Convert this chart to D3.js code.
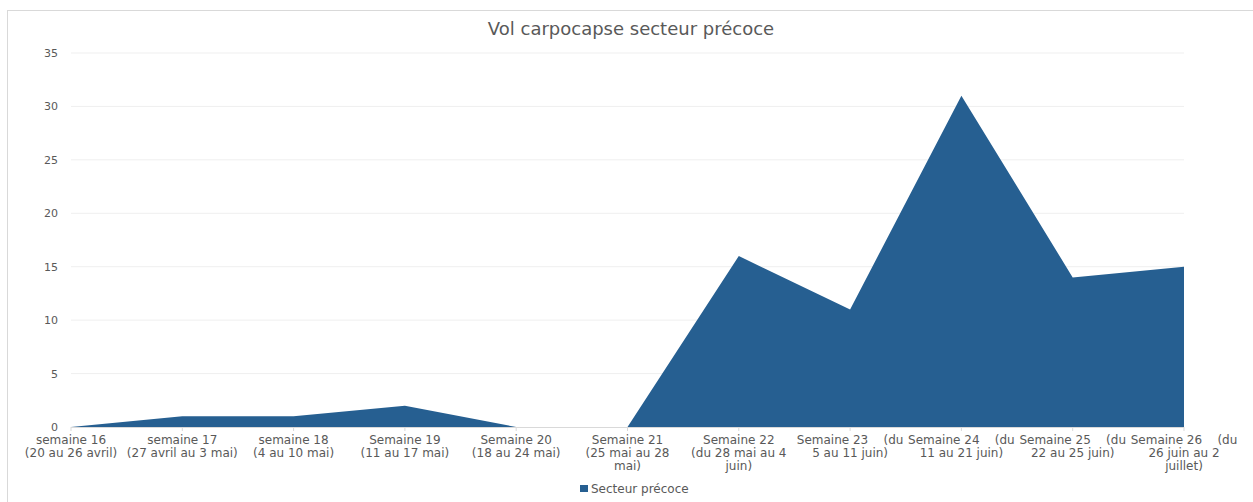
<!DOCTYPE html>
<html>
<head>
  <meta charset="utf-8">
  <script src="https://d3js.org/d3.v7.min.js"></script>
  <style>
    body { margin: 0; background: #fff; }
    text { font-family: "DejaVu Sans", sans-serif; fill: #595959; }
  </style>
</head>
<body>
<script type="text/javascript">
  // Weeks (each label split into its wrapped lines)
  var weeks = [
    ["semaine 16", "(20 au 26 avril)"],
    ["semaine 17", "(27 avril au 3 mai)"],
    ["semaine 18", "(4 au 10 mai)"],
    ["Semaine 19", "(11 au 17 mai)"],
    ["Semaine 20", "(18 au 24 mai)"],
    ["Semaine 21", "(25 mai au 28", "mai)"],
    ["Semaine 22", "(du 28 mai au 4", "juin)"],
    ["Semaine 23    (du", "5 au 11 juin)"],
    ["Semaine 24    (du", "11 au 21 juin)"],
    ["Semaine 25    (du", "22 au 25 juin)"],
    ["Semaine 26    (du", "26 juin au 2", "juillet)"]
  ];
  var captures = [0, 1, 1, 2, 0, 0, 16, 11, 31, 14, 15];
  var yTicks = [0, 5, 10, 15, 20, 25, 30, 35];
  var seriesName = "Secteur précoce";
  var title = "Vol carpocapse secteur précoce";

  var W = 1253, H = 502;
  var svg = d3.select("body").append("svg")
      .attr("width", W).attr("height", H);

  // chart frame
  svg.append("rect")
      .attr("x", 7.5).attr("y", 10.5)
      .attr("width", W + 10).attr("height", H + 10)
      .attr("fill", "#fff").attr("stroke", "#d9d9d9");

  var x = d3.scalePoint()
      .domain(d3.range(weeks.length))
      .range([71, 1184]);
  var y = d3.scaleLinear().domain([0, 35]).range([427, 53]);

  // grid
  svg.append("g").selectAll("line")
      .data(yTicks.slice(1)).enter().append("line")
      .attr("x1", 71).attr("x2", 1184)
      .attr("y1", function (d) { return y(d); })
      .attr("y2", function (d) { return y(d); })
      .attr("stroke", "#efefef").attr("stroke-width", 1);

  // area
  var area = d3.area()
      .x(function (d, i) { return x(i); })
      .y0(y(0))
      .y1(function (d) { return y(d); });
  svg.append("path")
      .datum(captures)
      .attr("d", area)
      .attr("fill", "#265f91");

  // x axis line + ticks
  svg.append("line")
      .attr("x1", 71).attr("x2", 1184)
      .attr("y1", y(0) + 0.5).attr("y2", y(0) + 0.5)
      .attr("stroke", "#d9d9d9");
  svg.append("g").selectAll("line")
      .data(d3.range(weeks.length)).enter().append("line")
      .attr("x1", function (d) { return x(d); })
      .attr("x2", function (d) { return x(d); })
      .attr("y1", y(0)).attr("y2", y(0) + 4)
      .attr("stroke", "#d9d9d9");

  // y labels
  svg.append("g").selectAll("text")
      .data(yTicks).enter().append("text")
      .attr("x", 58)
      .attr("y", function (d) { return y(d) + 4; })
      .attr("text-anchor", "end")
      .style("font-size", "11px")
      .text(function (d) { return d; });

  // x labels
  var lab = svg.append("g").selectAll("text")
      .data(weeks).enter().append("text")
      .attr("text-anchor", "middle")
      .attr("xml:space", "preserve")
      .style("white-space", "pre")
      .style("font-size", "12px");
  lab.selectAll("tspan")
      .data(function (d, i) { return d.map(function (t) { return {t: t, i: i}; }); })
      .enter().append("tspan")
      .attr("x", function (d) { return x(d.i); })
      .attr("y", function (d, j) { return 444 + j * 13; })
      .text(function (d) { return d.t; });

  // title
  svg.append("text")
      .attr("x", 631).attr("y", 35)
      .attr("text-anchor", "middle")
      .style("font-size", "18px")
      .text(title);

  // legend
  svg.append("rect")
      .attr("x", 580).attr("y", 485).attr("width", 8).attr("height", 7)
      .attr("fill", "#265f91");
  svg.append("text")
      .attr("x", 591).attr("y", 493)
      .style("font-size", "12px")
      .text(seriesName);
</script>
</body>
</html>
